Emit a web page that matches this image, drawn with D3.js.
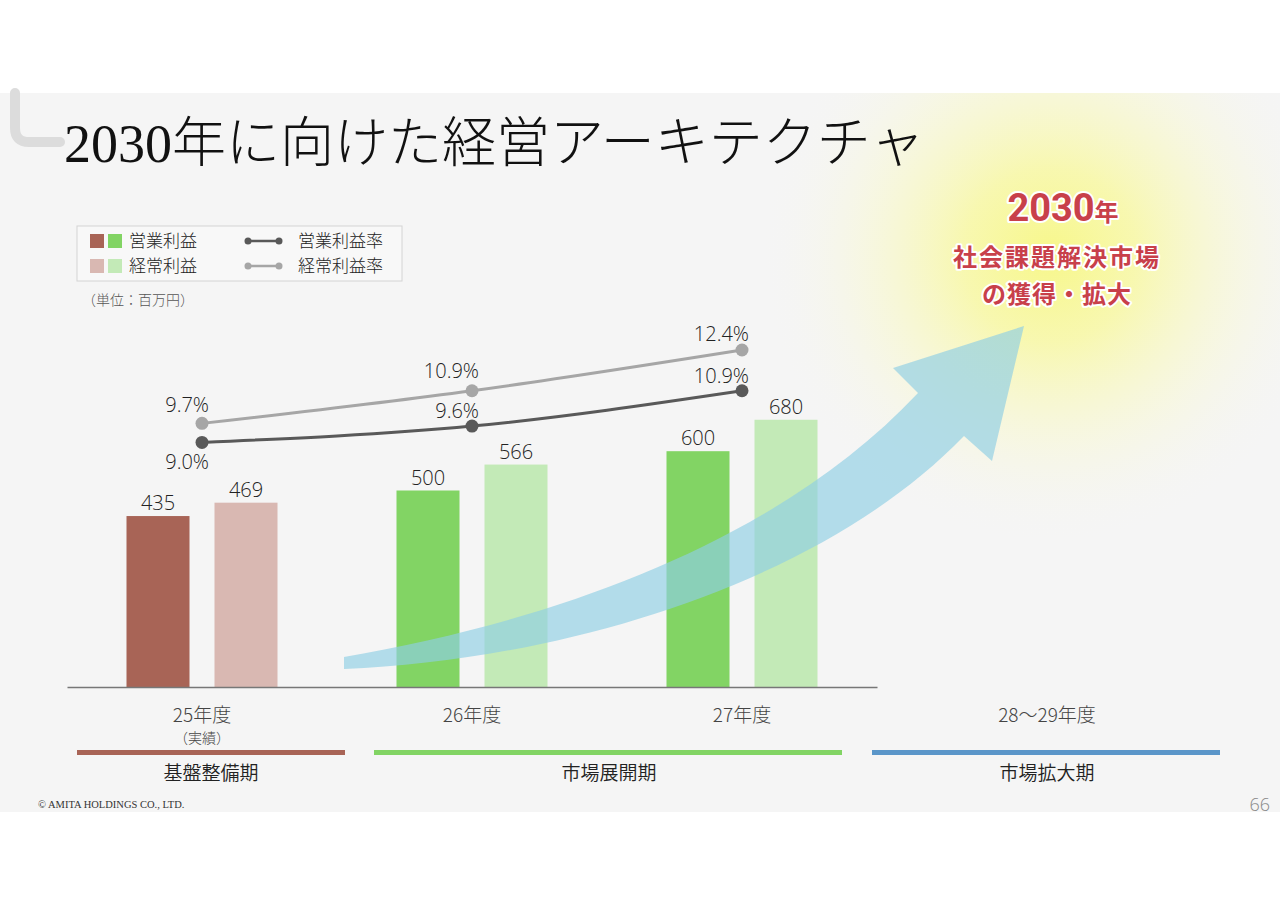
<!DOCTYPE html>
<html>
<head>
<meta charset="utf-8">
<script src="https://cdn.jsdelivr.net/npm/d3@7"></script>
<style>
  body { margin: 0; background: #fff; }
  svg { display: block; }
  .jp { font-family: "Noto Sans CJK JP", "Noto Sans", sans-serif; }
  .num { font-family: "Open Sans", "Lato", sans-serif; font-weight: 300; }
</style>
</head>
<body>
<script>
// DATA //
var years = [ '25年度', '26年度', '27年度' ];
var subLabels = [ '（実績）', '', '' ];
var opProfit = [ 435, 500, 600 ];
var ordProfit = [ 469, 566, 680 ];
var opMargin = [ 9.0, 9.6, 10.9 ];
var ordMargin = [ 9.7, 10.9, 12.4 ];
var futureLabel = '28〜29年度';
var phases = [ '基盤整備期', '市場展開期', '市場拡大期' ];
var phaseColors = [ '#a86456', '#82d464', '#5b96c9' ];
var opColors = [ '#a86456', '#82d464', '#82d464' ];
var ordColors = [ '#d9b8b2', '#c3eab7', '#c3eab7' ];

var W = 1280, H = 905;

var svg = d3.select( 'body' ).append( 'svg' )
  .attr( 'width', W )
  .attr( 'height', H );

var defs = svg.append( 'defs' );
var sun = defs.append( 'radialGradient' ).attr( 'id', 'sun' )
  .attr( 'cx', 0.5 ).attr( 'cy', 0.5 ).attr( 'r', 0.5 );
sun.append( 'stop' ).attr( 'offset', '0%' ).attr( 'stop-color', '#f7f78a' ).attr( 'stop-opacity', 1 );
sun.append( 'stop' ).attr( 'offset', '30%' ).attr( 'stop-color', '#f8f8a8' ).attr( 'stop-opacity', 0.9 );
sun.append( 'stop' ).attr( 'offset', '65%' ).attr( 'stop-color', '#f8f8d4' ).attr( 'stop-opacity', 0.55 );
sun.append( 'stop' ).attr( 'offset', '100%' ).attr( 'stop-color', '#f5f5f5' ).attr( 'stop-opacity', 0 );
defs.append( 'clipPath' ).attr( 'id', 'slide' )
  .append( 'rect' ).attr( 'x', 0 ).attr( 'y', 93 ).attr( 'width', W ).attr( 'height', 719 );

// slide background
svg.append( 'rect' )
  .attr( 'x', 0 ).attr( 'y', 93 )
  .attr( 'width', W ).attr( 'height', 719 )
  .attr( 'fill', '#f5f5f5' );

// glow behind the goal text
svg.append( 'circle' )
  .attr( 'clip-path', 'url(#slide)' )
  .attr( 'cx', 1050 ).attr( 'cy', 255 ).attr( 'r', 290 )
  .attr( 'fill', 'url(#sun)' );

// title bracket
svg.append( 'path' )
  .attr( 'd', 'M15,93 V128 Q15,142 29,142 H60' )
  .attr( 'fill', 'none' )
  .attr( 'stroke', '#dcdcdc' )
  .attr( 'stroke-width', 10 )
  .attr( 'stroke-linecap', 'round' );

// title
svg.append( 'text' )
  .attr( 'x', 64 ).attr( 'y', 162 )
  .attr( 'font-family', '"Liberation Serif", "Noto Sans CJK JP", serif' )
  .attr( 'font-weight', 300 )
  .attr( 'font-size', 54 )
  .attr( 'fill', '#111' )
  .text( '2030年に向けた経営アーキテクチャ' );

// SCALES //
var x = d3.scaleBand().domain( years ).range( [ 67, 877 ] );
var xInner = d3.scaleBand().domain( [ 'op', 'ord' ] ).range( [ -75.5, 75.5 ] ).paddingInner( 25 / 88 );
var y = d3.scaleLinear().domain( [ 0, 1000 ] ).range( [ 687, 294 ] );
var y2 = d3.scaleLinear().domain( [ 0, 14.46 ] ).range( [ 687, 294 ] );

function cx( i ) {
  return x( years[ i ] ) + x.bandwidth() / 2;
}

// BARS //
var bars = [];
years.forEach( function ( yr, i ) {
  bars.push( { i: i, key: 'op', v: opProfit[ i ], c: opColors[ i ] } );
  bars.push( { i: i, key: 'ord', v: ordProfit[ i ], c: ordColors[ i ] } );
});

var gBars = svg.append( 'g' );
gBars.selectAll( 'rect' )
  .data( bars )
  .enter().append( 'rect' )
  .attr( 'x', function ( d ) { return cx( d.i ) + xInner( d.key ); } )
  .attr( 'y', function ( d ) { return y( d.v ); } )
  .attr( 'width', xInner.bandwidth() )
  .attr( 'height', function ( d ) { return y( 0 ) - y( d.v ); } )
  .attr( 'fill', function ( d ) { return d.c; } );

gBars.selectAll( 'text' )
  .data( bars )
  .enter().append( 'text' )
  .attr( 'class', 'num' )
  .attr( 'x', function ( d ) { return cx( d.i ) + xInner( d.key ) + xInner.bandwidth() / 2; } )
  .attr( 'y', function ( d ) { return y( d.v ) - 6; } )
  .attr( 'text-anchor', 'middle' )
  .attr( 'font-size', 20 )
  .attr( 'fill', '#222' )
  .text( function ( d ) { return d.v; } );

// baseline axis
svg.append( 'g' )
  .attr( 'transform', 'translate(0,' + y( 0 ) + ')' )
  .call( d3.axisBottom( x ).tickSize( 0 ).tickFormat( '' ) )
  .call( function ( g ) {
    g.select( '.domain' ).attr( 'stroke', '#777' ).attr( 'stroke-width', 1.5 );
  });

// ARROW //
var arrow = d3.path();
arrow.moveTo( 344, 657 );
arrow.bezierCurveTo( 560, 620, 780, 540, 918, 393 );
arrow.lineTo( 893, 368 );
arrow.lineTo( 1024, 326 );
arrow.lineTo( 992, 461 );
arrow.lineTo( 964, 436 );
arrow.bezierCurveTo( 820, 585, 560, 660, 344, 669 );
arrow.closePath();

svg.append( 'path' )
  .attr( 'd', arrow.toString() )
  .attr( 'fill', '#8fcfe3' )
  .attr( 'fill-opacity', 0.66 );

// MARGIN LINES //
var line = d3.line()
  .x( function ( d, i ) { return cx( i ); } )
  .y( function ( d ) { return y2( d ); } )
  .curve( d3.curveMonotoneX );

var series = [
  { vals: ordMargin, color: '#a6a6a6', dy: [ -11, -13, -9 ] },
  { vals: opMargin, color: '#595959', dy: [ 27, -8, -8 ] }
];

series.forEach( function ( s ) {
  var g = svg.append( 'g' );
  g.append( 'path' )
    .attr( 'd', line( s.vals ) )
    .attr( 'fill', 'none' )
    .attr( 'stroke', s.color )
    .attr( 'stroke-width', 3 );
  g.selectAll( 'circle' )
    .data( s.vals )
    .enter().append( 'circle' )
    .attr( 'cx', function ( d, i ) { return cx( i ); } )
    .attr( 'cy', function ( d ) { return y2( d ); } )
    .attr( 'r', 6.5 )
    .attr( 'fill', s.color );
  g.selectAll( 'text' )
    .data( s.vals )
    .enter().append( 'text' )
    .attr( 'class', 'num' )
    .attr( 'x', function ( d, i ) { return cx( i ) + 7; } )
    .attr( 'y', function ( d, i ) { return y2( d ) + s.dy[ i ]; } )
    .attr( 'text-anchor', 'end' )
    .attr( 'font-size', 20 )
    .attr( 'fill', '#222' )
    .text( function ( d ) { return d.toFixed( 1 ) + '%'; } );
});

// CATEGORY LABELS //
var gCat = svg.append( 'g' ).attr( 'class', 'jp' );
years.forEach( function ( yr, i ) {
  gCat.append( 'text' )
    .attr( 'x', cx( i ) ).attr( 'y', 722 )
    .attr( 'text-anchor', 'middle' )
    .attr( 'font-size', 19 )
    .attr( 'font-weight', 300 )
    .attr( 'fill', '#444' )
    .text( yr );
  if ( subLabels[ i ] ) {
    gCat.append( 'text' )
      .attr( 'x', cx( i ) ).attr( 'y', 743 )
      .attr( 'text-anchor', 'middle' )
      .attr( 'font-size', 14 )
      .attr( 'font-weight', 300 )
      .attr( 'fill', '#444' )
      .text( subLabels[ i ] );
  }
});
gCat.append( 'text' )
  .attr( 'x', 1047 ).attr( 'y', 722 )
  .attr( 'text-anchor', 'middle' )
  .attr( 'font-size', 19 )
  .attr( 'font-weight', 300 )
  .attr( 'fill', '#444' )
  .text( futureLabel );

// PHASES //
var phaseSpans = [ [ 77, 345 ], [ 374, 842 ], [ 872, 1220 ] ];
var gPh = svg.append( 'g' ).attr( 'class', 'jp' );
phases.forEach( function ( p, i ) {
  var a = phaseSpans[ i ][ 0 ], b = phaseSpans[ i ][ 1 ];
  gPh.append( 'rect' )
    .attr( 'x', a ).attr( 'y', 750 )
    .attr( 'width', b - a ).attr( 'height', 5 )
    .attr( 'fill', phaseColors[ i ] );
  gPh.append( 'text' )
    .attr( 'x', i === 0 ? 211 : ( i === 1 ? 609 : 1047 ) ).attr( 'y', 780 )
    .attr( 'text-anchor', 'middle' )
    .attr( 'font-size', 19 )
    .attr( 'font-weight', 350 )
    .attr( 'fill', '#222' )
    .text( p );
});

// LEGEND //
var lg = svg.append( 'g' ).attr( 'class', 'jp' );
lg.append( 'rect' )
  .attr( 'x', 77 ).attr( 'y', 226 )
  .attr( 'width', 325 ).attr( 'height', 55 )
  .attr( 'fill', '#f8f8f8' )
  .attr( 'stroke', '#d4d4d4' )
  .attr( 'stroke-width', 1 );

var legendRows = [
  { label: '営業利益', sw: [ opColors[ 0 ], opColors[ 1 ] ], line: '#595959', lineLabel: '営業利益率' },
  { label: '経常利益', sw: [ ordColors[ 0 ], ordColors[ 1 ] ], line: '#a6a6a6', lineLabel: '経常利益率' }
];
legendRows.forEach( function ( r, i ) {
  var yy = 234 + i * 25;
  lg.append( 'rect' ).attr( 'x', 90 ).attr( 'y', yy ).attr( 'width', 14 ).attr( 'height', 14 ).attr( 'fill', r.sw[ 0 ] );
  lg.append( 'rect' ).attr( 'x', 108 ).attr( 'y', yy ).attr( 'width', 14 ).attr( 'height', 14 ).attr( 'fill', r.sw[ 1 ] );
  lg.append( 'text' ).attr( 'x', 129 ).attr( 'y', yy + 13 )
    .attr( 'font-size', 17 ).attr( 'font-weight', 300 ).attr( 'fill', '#222' ).text( r.label );
  lg.append( 'line' ).attr( 'x1', 248 ).attr( 'x2', 276 ).attr( 'y1', yy + 7 ).attr( 'y2', yy + 7 )
    .attr( 'stroke', r.line ).attr( 'stroke-width', 2.5 );
  lg.append( 'circle' ).attr( 'cx', 248 ).attr( 'cy', yy + 7 ).attr( 'r', 3.5 ).attr( 'fill', r.line );
  lg.append( 'circle' ).attr( 'cx', 279 ).attr( 'cy', yy + 7 ).attr( 'r', 3.5 ).attr( 'fill', r.line );
  lg.append( 'text' ).attr( 'x', 298 ).attr( 'y', yy + 13 )
    .attr( 'font-size', 17 ).attr( 'font-weight', 300 ).attr( 'fill', '#222' ).text( r.lineLabel );
});

svg.append( 'text' )
  .attr( 'class', 'jp' )
  .attr( 'x', 82 ).attr( 'y', 305 )
  .attr( 'font-size', 14 ).attr( 'font-weight', 300 )
  .attr( 'fill', '#555' )
  .text( '（単位：百万円）' );

// GOAL TEXT //
var goal = svg.append( 'g' ).attr( 'class', 'jp' )
  .attr( 'fill', '#c8404a' )
  .attr( 'font-weight', 700 )
  .attr( 'stroke', '#fff' )
  .attr( 'stroke-width', 4 )
  .attr( 'stroke-linejoin', 'round' )
  .attr( 'paint-order', 'stroke' )
  .attr( 'text-anchor', 'middle' );
var t1 = goal.append( 'text' ).attr( 'x', 1063 ).attr( 'y', 221 );
t1.append( 'tspan' ).attr( 'font-size', 38 ).attr( 'font-family', 'Roboto, "Noto Sans", sans-serif' ).text( '2030' );
t1.append( 'tspan' ).attr( 'font-size', 24 ).text( '年' );
goal.append( 'text' ).attr( 'x', 1057 ).attr( 'y', 266 )
  .attr( 'font-size', 24 ).attr( 'letter-spacing', 2 ).text( '社会課題解決市場' );
goal.append( 'text' ).attr( 'x', 1057 ).attr( 'y', 303 )
  .attr( 'font-size', 24 ).attr( 'letter-spacing', 1 ).text( 'の獲得・拡大' );

// FOOTER //
svg.append( 'text' )
  .attr( 'x', 38 ).attr( 'y', 808 )
  .attr( 'font-family', '"Liberation Serif", serif' )
  .attr( 'font-size', 10.5 )
  .attr( 'fill', '#333' )
  .text( '© AMITA HOLDINGS CO., LTD.' );
svg.append( 'text' )
  .attr( 'class', 'num' )
  .attr( 'x', 1270 ).attr( 'y', 811 )
  .attr( 'text-anchor', 'end' )
  .attr( 'font-size', 18 )
  .attr( 'fill', '#888' )
  .text( '66' );
</script>
</body>
</html>
